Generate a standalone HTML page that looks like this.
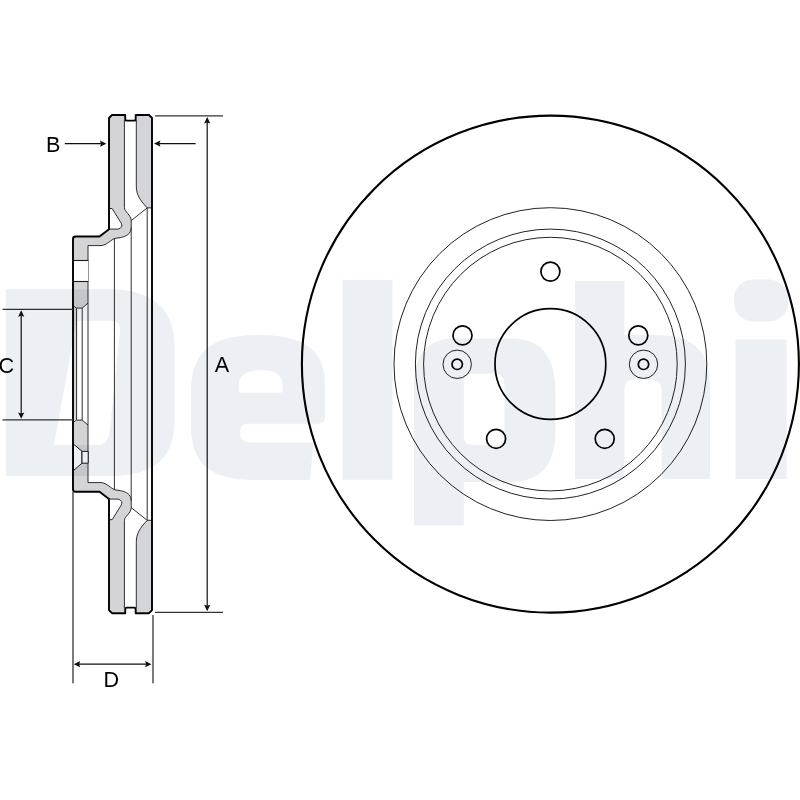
<!DOCTYPE html>
<html><head><meta charset="utf-8">
<style>
html,body{margin:0;padding:0;background:#fff;}
body{width:800px;height:800px;overflow:hidden;}
svg{display:block;}
.t{font-family:"Liberation Sans",sans-serif;font-size:21.6px;fill:#000;}
</style></head><body>
<svg width="800" height="800" viewBox="0 0 800 800">
<rect width="800" height="800" fill="#fff"/>

<!-- ===== FRONT VIEW ===== -->
<g fill="none" stroke="#000">
  <circle cx="550.4" cy="364.1" r="248.5" stroke-width="2.1"/>
  <circle cx="550.4" cy="364.1" r="156.4" stroke-width="1" stroke="#222"/>
  <circle cx="550.4" cy="364.1" r="135" stroke-width="1" stroke="#222"/>
  <circle cx="550.4" cy="364.1" r="126.8" stroke-width="1" stroke="#222"/>
  <circle cx="550.4" cy="364" r="55.4" stroke-width="1.7"/>
  <!-- bolt holes -->
  <circle cx="550.4" cy="271.6" r="9.5" stroke-width="1.7"/>
  <circle cx="462.5" cy="335.4" r="9.5" stroke-width="1.7"/>
  <circle cx="638.3" cy="335.4" r="9.5" stroke-width="1.7"/>
  <circle cx="496.1" cy="438.8" r="9.5" stroke-width="1.7"/>
  <circle cx="604.7" cy="438.8" r="9.5" stroke-width="1.7"/>
  <!-- small holes w/ rings -->
  <circle cx="457.2" cy="364.3" r="5.2" stroke-width="1.7"/>
  <circle cx="457.2" cy="364.3" r="14.2" stroke-width="1" stroke="#222"/>
  <circle cx="643.5" cy="364.3" r="5.2" stroke-width="1.7"/>
  <circle cx="643.5" cy="364.3" r="14.2" stroke-width="1" stroke="#222"/>
</g>

<!-- ===== SIDE VIEW ===== -->
<g>
    <!-- grey fill top-left region -->
    <path fill="#d4d4d6" stroke="none" d="M109,116 L124.4,116 L124.4,207.5 C124.4,212 131.2,215 131.2,220.6 L131.2,227.5 C131.2,234 126,236.5 120.6,237.5 L115,238.4 C111,239.5 107,245.3 101,245.6 L88,245.6 L88,303.1 L82.2,308.1 L76.6,308.1 L73,306 L73,237 L99.5,236.5 L109,229.3 Z"/>
    <!-- right pad grey -->
    <path fill="#d3d5d9" stroke="none" d="M136.3,116 L152,116 L152,207.9 L147.2,207.9 C140,200 136.3,195 136.3,186 Z"/>
    <!-- thin lines -->
    <g fill="none" stroke="#1a1a1a" stroke-width="0.9">
      <path d="M124.4,120 L124.4,207.5 C124.4,212 131.2,215 131.2,220.6 L131.2,227.5 C131.2,234 126,236.5 120.6,237.5 L115,238.4 C111,239.5 107,245.3 101,245.6 L88,245.6"/>
      <path d="M136.3,120 L136.3,186 C136.3,195 140,200 147.2,207.9 L152,207.9"/>
      <path d="M147.2,207.9 L131.2,220.6"/>
      <path d="M88,303.1 L82.2,308.1 L76.6,308.1 L73.2,306"/>
    </g>
    <!-- triangle hole -->
    <path fill="#fff" stroke="#1a1a1a" stroke-width="0.9" d="M109.2,208.4 L112.2,208.6 L121.2,223.1 Q123.5,227.5 118.1,229.1 L109.2,229.1"/>
  </g>

<g transform="matrix(1 0 0 -1 0 728.2)">
    <!-- grey fill top-left region -->
    <path fill="#d4d4d6" stroke="none" d="M109,116 L124.4,116 L124.4,207.5 C124.4,212 131.2,215 131.2,220.6 L131.2,227.5 C131.2,234 126,236.5 120.6,237.5 L115,238.4 C111,239.5 107,245.3 101,245.6 L88,245.6 L88,303.1 L82.2,308.1 L76.6,308.1 L73,306 L73,237 L99.5,236.5 L109,229.3 Z"/>
    <!-- right pad grey -->
    <path fill="#d3d5d9" stroke="none" d="M136.3,116 L152,116 L152,207.9 L147.2,207.9 C140,200 136.3,195 136.3,186 Z"/>
    <!-- thin lines -->
    <g fill="none" stroke="#1a1a1a" stroke-width="0.9">
      <path d="M124.4,120 L124.4,207.5 C124.4,212 131.2,215 131.2,220.6 L131.2,227.5 C131.2,234 126,236.5 120.6,237.5 L115,238.4 C111,239.5 107,245.3 101,245.6 L88,245.6"/>
      <path d="M136.3,120 L136.3,186 C136.3,195 140,200 147.2,207.9 L152,207.9"/>
      <path d="M147.2,207.9 L131.2,220.6"/>
      <path d="M88,303.1 L82.2,308.1 L76.6,308.1 L73.2,306"/>
    </g>
    <!-- triangle hole -->
    <path fill="#fff" stroke="#1a1a1a" stroke-width="0.9" d="M109.2,208.4 L112.2,208.6 L121.2,223.1 Q123.5,227.5 118.1,229.1 L109.2,229.1"/>
  </g>

<!-- strip & mid lines -->
<rect x="73" y="308" width="3.6" height="112.2" fill="#d4d4d6"/>
<g fill="none" stroke="#1a1a1a" stroke-width="0.9">
  <line x1="76.6" y1="308.1" x2="76.6" y2="420.1"/>
  <line x1="82.2" y1="308.1" x2="82.2" y2="420.1"/>
  <line x1="88" y1="245.6" x2="88" y2="482.6"/>
  <line x1="114.4" y1="238.4" x2="114.4" y2="489.8"/>
  <line x1="131.2" y1="227.5" x2="131.2" y2="500.7"/>
  <line x1="147.2" y1="207.9" x2="147.2" y2="520.3"/>
</g>
<!-- top rect hole -->
<rect x="73" y="260.5" width="15" height="21" fill="#fff"/>
<g stroke="#1a1a1a" stroke-width="1.1">
  <line x1="73" y1="260.5" x2="88.3" y2="260.5"/>
  <line x1="73" y1="281.5" x2="88.3" y2="281.5"/>
</g>
<!-- bottom countersink hole -->
<path fill="#fff" stroke="#1a1a1a" stroke-width="1" d="M73.5,444.2 L82,451.2 L82,463.2 L73.5,470.5 Z"/>
<path fill="#fff" stroke="#1a1a1a" stroke-width="1" d="M82,451.4 L88.2,451.4 L88.2,463.2 L82,463.2 Z"/>

<!-- thick outline -->
<path fill="none" stroke="#000" stroke-width="1.9" stroke-linejoin="round" d="M73,239 Q73,236.5 75.5,236.5 L99.5,236.5 L109,229.3 L109,118 L112,115 L125.2,115 L125.2,119 Q125.2,120.6 127,120.6 L134,120.6 Q135.7,120.6 135.7,119 L135.7,115 L149,115 L152,118 L152,610.2 L149,613.2 L135.7,613.2 L135.7,609.2 Q135.7,607.6 134,607.6 L127,607.6 Q125.2,607.6 125.2,609.2 L125.2,613.2 L112,613.2 L109,610.2 L109,498.9 L99.5,491.7 L75.5,491.7 Q73,491.7 73,489.2 Z"/>

<!-- ===== DIMENSIONS ===== -->
<g stroke="#111" stroke-width="1.2" fill="none">
  <!-- A -->
  <line x1="155" y1="115.8" x2="223" y2="115.8" stroke="#333"/>
  <line x1="155" y1="612.4" x2="223" y2="612.4" stroke="#333"/>
  <line x1="207.2" y1="122" x2="207.2" y2="606"/>
  <!-- B -->
  <line x1="64.8" y1="143.7" x2="101" y2="143.7"/>
  <line x1="159" y1="143.6" x2="195.6" y2="143.6"/>
  <!-- C -->
  <line x1="2.5" y1="309.3" x2="73" y2="309.3" stroke="#333"/>
  <line x1="2.5" y1="419.8" x2="73" y2="419.8" stroke="#333"/>
  <line x1="21.2" y1="316" x2="21.2" y2="414"/>
  <!-- D -->
  <line x1="73" y1="491.7" x2="73" y2="683.2" stroke="#222"/>
  <line x1="153" y1="615" x2="153" y2="683.2" stroke="#222"/>
  <line x1="79" y1="664.2" x2="146" y2="664.2"/>
</g>
<g fill="#111" stroke="none">
  <path d="M106.4,143.7 L100,140.6 L101,143.7 L100,146.8 Z"/>
  <path d="M154,143.6 L160.4,140.5 L159.4,143.6 L160.4,146.7 Z"/>
  <path d="M207.2,117 L204.1,123.4 L207.2,122.4 L210.3,123.4 Z"/>
  <path d="M207.2,611.2 L204.1,604.8 L207.2,605.8 L210.3,604.8 Z"/>
  <path d="M21.2,310.3 L18.1,316.7 L21.2,315.7 L24.3,316.7 Z"/>
  <path d="M21.2,418.8 L18.1,412.4 L21.2,413.4 L24.3,412.4 Z"/>
  <path d="M73.8,664.2 L80.2,661.1 L79.2,664.2 L80.2,667.3 Z"/>
  <path d="M151.5,664.2 L145.1,661.1 L146.1,664.2 L145.1,667.3 Z"/>
</g>
<text class="t" x="46" y="151.5">B</text>
<text class="t" x="-1.4" y="372.5">C</text>
<text class="t" x="214.8" y="371.8">A</text>
<text class="t" x="103.6" y="686.8">D</text>

<!-- ===== WATERMARK ===== -->
<g fill="#ecEff4" style="mix-blend-mode:multiply" fill-rule="evenodd">
  <path d="M5.8,289.3 L110,289.3 C158,289.3 174.5,315 174.5,345 L174.5,420 C174.5,455 158,476 110,476 L5.8,476 Z M76.5,320.8 L111,320.8 C117,320.8 120.5,325 120,331 L109.8,430 C109,439 105,445 98,445 L54,445 Z"/>
  <path d="M258,335 C308,335 325,352 325,385 L325,417 Q325,423.75 318,423.75 L248,423.75 Q240,423.75 240,432 Q240,442.5 250,442.5 L313.5,442.5 L310,480 L255,480 C208,480 191,462 191,425 L191,392 C191,355 208,335 258,335 Z M238.75,392.5 L282.5,392.5 L282.5,385 C282.5,375 275,370 262,370 C248,370 238.75,375 238.75,385 Z"/>
  <rect x="342.5" y="280" width="50" height="199.75"/>
  <path d="M414,525.6 L414,385 C414,355 427,338.5 455,338.5 L512,338.5 C542,338.5 555.5,358 555.5,392 L555.5,430 C555.5,463 542,482 510,482 L463.75,482 L463.75,525.6 Z M463.75,382 C463.75,376 467,373.75 473,373.75 L495,373.75 C501,373.75 504.4,378 504.4,385 L504.4,437 C504.4,442 502,445 497,445 L473,445 C467,445 463.75,442 463.75,436 Z"/>
  <path d="M575,281 L624.5,281 L624.5,335 L655,335 C692,335 710,350 710,385 L710,479 L661.6,479 L661.6,390 C661.6,383 657,379.5 650,379.5 L634,379.5 C628,379.5 624.5,383 624.5,389 L624.5,479 L575,479 Z"/>
  <rect x="734" y="279.5" width="54" height="42" rx="20" ry="18"/>
  <rect x="735.5" y="339.5" width="51" height="139.5"/>
</g>
</svg>
</body></html>
